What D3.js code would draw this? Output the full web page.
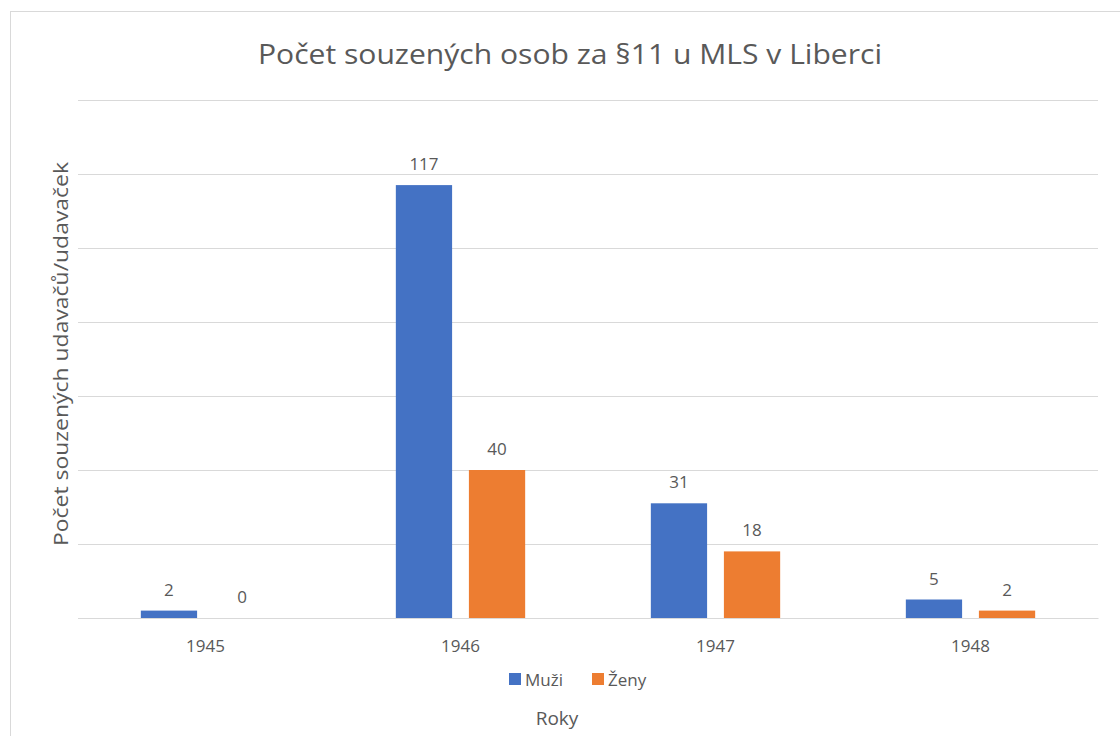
<!DOCTYPE html>
<html><head><meta charset="utf-8">
<script src="https://cdn.jsdelivr.net/npm/d3@7"></script>
<style>body{margin:0;background:#fff}svg text{font-family:"Open Sans","Noto Sans",sans-serif;fill:#595959}</style>
</head><body><svg id="c" width="1120" height="736"></svg>
<script>
const years = ["1945","1946","1947","1948"];
const seriesNames = ["Muži","Ženy"];
const muzi = [2,117,31,5];
const zeny = [0,40,18,2];
const yTicks = [0,20,40,60,80,100,120,140];
const colors = ["#4472C4","#ED7D31"];

(function(){
const svg = d3.select("#c");
svg.append("rect").attr("x",10.5).attr("y",11.5).attr("width",1120).attr("height",740)
  .attr("fill","#fff").attr("stroke","#D9D9D9");

const pL=78, pR=1098, pT=100, pB=618;
const x = d3.scaleBand().domain(years).range([pL,pR]).paddingInner(0).paddingOuter(0);
const x1 = d3.scaleBand().domain(seriesNames).range([0,x.bandwidth()]).paddingInner(0.23).paddingOuter(0.86);
const y = d3.scaleLinear().domain([0,140]).range([pB,pT]);

const grid = svg.append("g").attr("transform",`translate(${pL},0)`)
  .call(d3.axisLeft(y).tickValues(yTicks).tickSize(-(pR-pL)).tickFormat(""));
grid.select(".domain").remove();
grid.selectAll(".tick line").attr("stroke","#D9D9D9");

const data = years.map((yr,i)=>({yr, vals:[muzi[i],zeny[i]]}));
const g = svg.append("g");
data.forEach(d=>{
  d.vals.forEach((v,j)=>{
    const bx = x(d.yr)+x1(seriesNames[j]);
    g.append("rect").attr("x",bx).attr("y",y(v)).attr("width",x1.bandwidth())
      .attr("height",y(0)-y(v)).attr("fill",colors[j]);
    g.append("text").attr("x",bx+x1.bandwidth()/2).attr("y",y(v)-15)
      .attr("text-anchor","middle").attr("font-size",17).text(v);
  });
});

const xa = svg.append("g").attr("transform",`translate(0,${pB})`)
  .call(d3.axisBottom(x).tickSize(0).tickPadding(22));
xa.select(".domain").attr("stroke","#D9D9D9");
xa.selectAll("text").attr("font-size",17).attr("fill","#595959").style("font-family",'"Open Sans","Noto Sans",sans-serif');

svg.append("text").attr("x",570).attr("y",64).attr("text-anchor","middle")
  .attr("font-size",27).attr("textLength",624).attr("lengthAdjust","spacingAndGlyphs")
  .text("Počet souzených osob za §11 u MLS v Liberci");

svg.append("text").attr("transform","translate(68,354) rotate(-90)").attr("text-anchor","middle")
  .attr("font-size",20).attr("textLength",384).attr("lengthAdjust","spacingAndGlyphs")
  .text("Počet souzených udavačů/udavaček");

svg.append("text").attr("x",557).attr("y",725).attr("text-anchor","middle")
  .attr("font-size",19).text("Roky");

const leg = svg.append("g");
const legX = [509,592];
seriesNames.forEach((n,j)=>{
  leg.append("rect").attr("x",legX[j]).attr("y",673).attr("width",12).attr("height",12).attr("fill",colors[j]);
  leg.append("text").attr("x",legX[j]+16).attr("y",686).attr("font-size",17).text(n);
});
})();
</script></body></html>
